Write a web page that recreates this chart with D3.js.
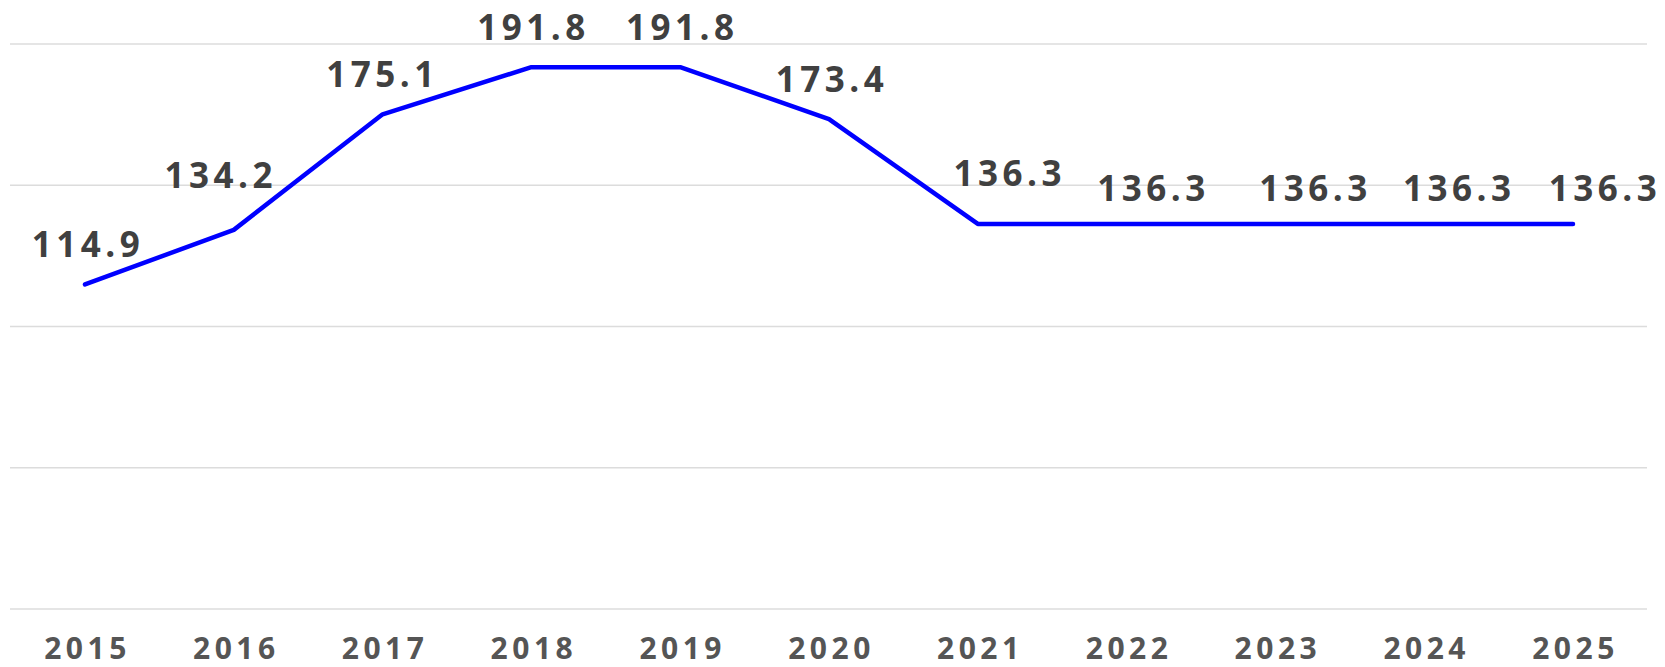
<!DOCTYPE html>
<html>
<head>
<meta charset="utf-8">
<script src="https://cdn.jsdelivr.net/npm/d3@7"></script>
<style>
  body { margin: 0; background: #fff; }
  .grid line { stroke: #dcdcdc; stroke-width: 1.5; }
  .valueLabel { font-family: "Open Sans", "Liberation Sans", sans-serif; font-weight: bold; font-size: 35px; fill: #404040; letter-spacing: 4.5px; }
  .yearLabel { font-family: "Open Sans", "Liberation Sans", sans-serif; font-weight: bold; font-size: 30px; fill: #555; letter-spacing: 4.5px; }
</style>
</head>
<body>
<div id="chart"></div>
<script>
// data
var years = ["2015", "2016", "2017", "2018", "2019", "2020", "2021", "2022", "2023", "2024", "2025"];
var values = [114.9, 134.2, 175.1, 191.8, 191.8, 173.4, 136.3, 136.3, 136.3, 136.3, 136.3];
var gridTicks = [0, 50, 100, 150, 200];

// label nudges (dx, dy from the point), as laid out in the original
var labelNudge = [[1, -27], [-15, -42], [-2, -27], [0, -27], [0, -27], [1, -27],
                  [30, -38], [25, -23], [38, -23], [33, -23], [30, -23]];

var width = 1665, height = 667;

var svg = d3.select("#chart").append("svg")
    .attr("width", width)
    .attr("height", height);

var x = d3.scalePoint()
    .domain(years)
    .range([85, 1573]);

var y = d3.scaleLinear()
    .domain([0, 200])
    .range([609, 44]);

// horizontal grid
svg.append("g")
    .attr("class", "grid")
    .selectAll("line")
    .data(gridTicks)
    .enter().append("line")
    .attr("x1", 10)
    .attr("x2", 1647)
    .attr("y1", function(d) { return y(d); })
    .attr("y2", function(d) { return y(d); });

// line
var line = d3.line()
    .x(function(d, i) { return x(years[i]); })
    .y(function(d) { return y(d); });

svg.append("path")
    .datum(values)
    .attr("fill", "none")
    .attr("stroke", "#0000ff")
    .attr("stroke-width", 4.5)
    .attr("stroke-linecap", "round")
    .attr("stroke-linejoin", "round")
    .attr("d", line);

// value labels
svg.append("g")
    .selectAll("text")
    .data(values)
    .enter().append("text")
    .attr("class", "valueLabel")
    .attr("text-anchor", "middle")
    .attr("x", function(d, i) { return x(years[i]) + labelNudge[i][0] + 2; })
    .attr("y", function(d, i) { return y(d) + labelNudge[i][1]; })
    .text(function(d) { return d.toFixed(1); });

// x axis labels
var xAxis = d3.axisBottom(x).tickSize(0).tickPadding(0);
var axisG = svg.append("g")
    .attr("transform", "translate(0,659)")
    .call(xAxis);
axisG.select(".domain").remove();
axisG.selectAll("text")
    .attr("class", "yearLabel")
    .attr("dy", null)
    .attr("y", 0)
    .attr("x", 2)
    .attr("font-family", null)
    .attr("font-size", null)
    .attr("fill", null);
axisG.attr("font-family", null).attr("font-size", null);
</script>
</body>
</html>
